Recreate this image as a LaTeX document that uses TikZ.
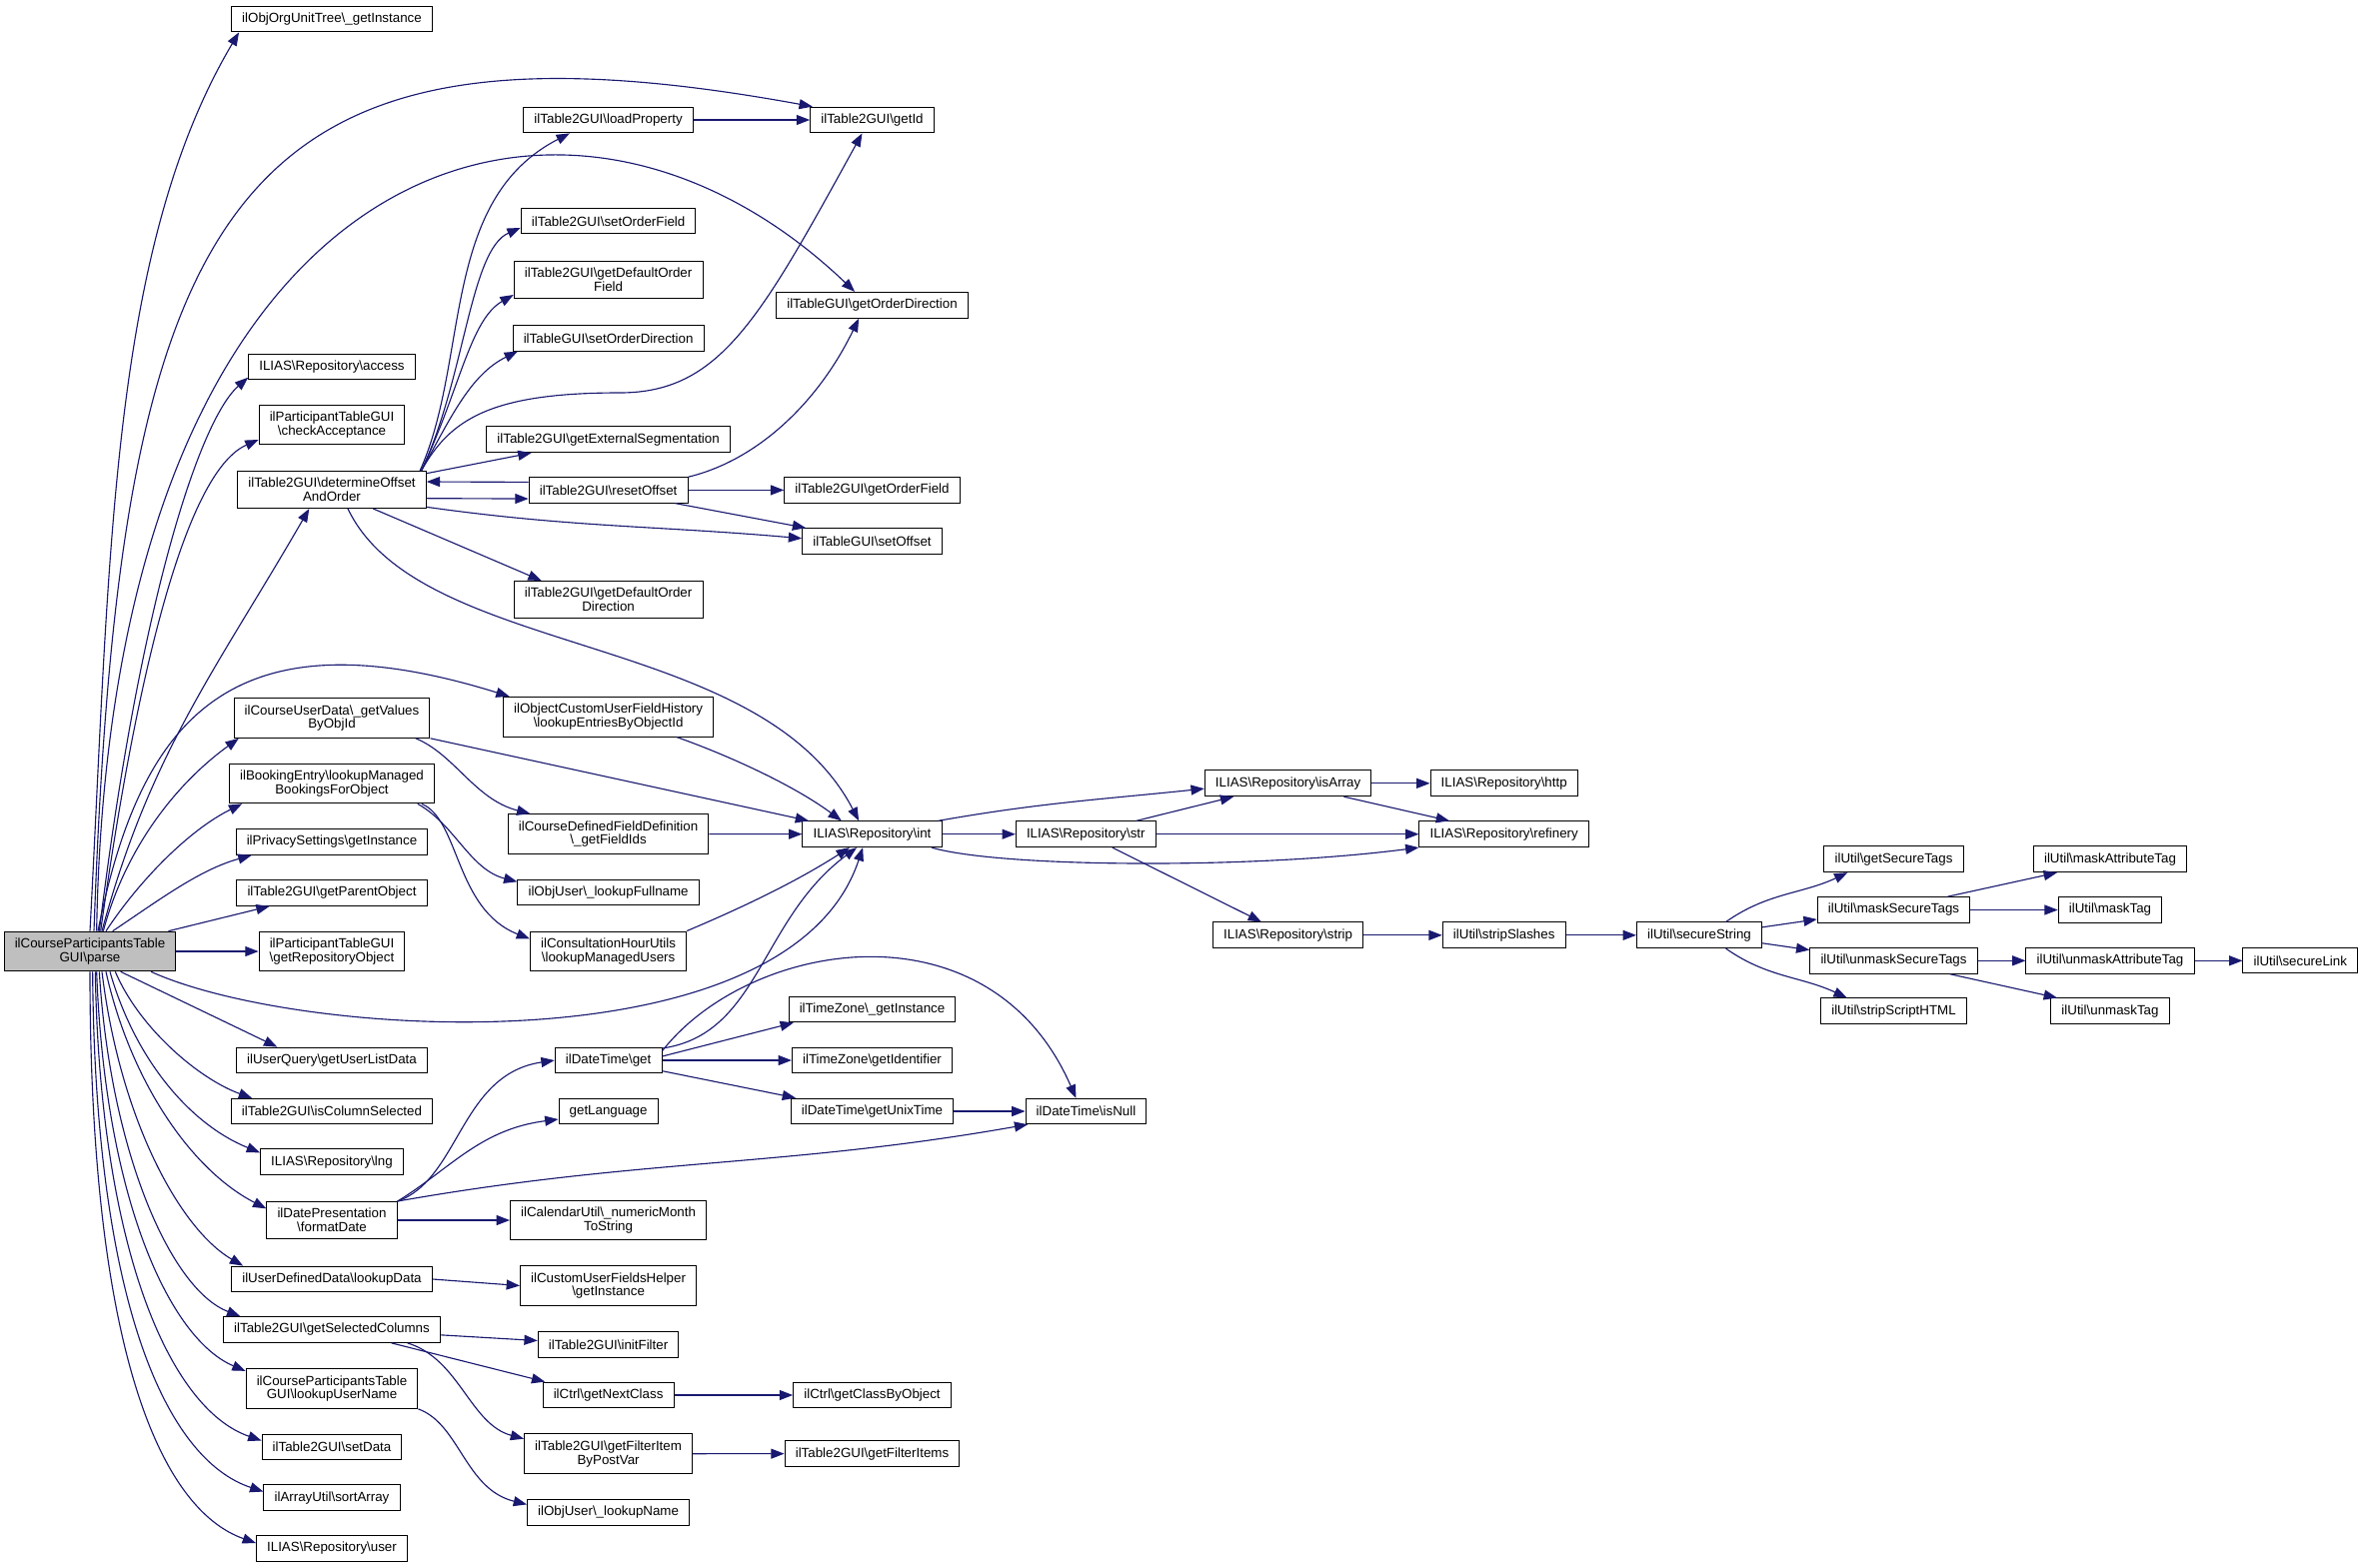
\documentclass[tikz,border=0pt]{standalone}
\usepackage{fontspec}
\setmainfont{Liberation Sans}
\usetikzlibrary{arrows.meta}
\usepackage{xcolor}
\definecolor{edgeblue}{HTML}{191970}
\newcommand{\bsl}{\textbackslash}

\begin{document}
\begin{tikzpicture}[x=0.75pt,y=-0.75pt,
    f/.style={->,draw=edgeblue,line width=0.85pt,>={Triangle[length=10pt,width=7.5pt]}},%
    fn/.style={draw,fill=white,line width=0.75pt,inner xsep=8pt,inner ysep=5pt,minimum height=19pt,align=center,font=\fontsize{10pt}{10.4pt}\selectfont},%
    cur/.style={fn,fill=black!25}]
    \useasboundingbox (0,0) rectangle (2364,1568);
    % the function itself
    \node[cur] (parse) at (90,952) {ilCourseParticipantsTable\\GUI\bsl parse};
    % first column of callees
    \node[fn] (orgunit) at (332,19) {ilObjOrgUnitTree\bsl\_getInstance};
    \node[fn] (access) at (332,367) {ILIAS\bsl Repository\bsl access};
    \node[fn] (checkacc) at (332,425) {ilParticipantTableGUI\\\bsl checkAcceptance};
    \node[fn] (doao) at (332,490) {ilTable2GUI\bsl determineOffset\\AndOrder};
    \node[fn] (getvalues) at (332,718.5) {ilCourseUserData\bsl\_getValues\\ByObjId};
    \node[fn] (bookings) at (332,784) {ilBookingEntry\bsl lookupManaged\\BookingsForObject};
    \node[fn] (privacy) at (332,842.5) {ilPrivacySettings\bsl getInstance};
    \node[fn] (parentobj) at (332,893.4) {ilTable2GUI\bsl getParentObject};
    \node[fn] (repoobj) at (332,952) {ilParticipantTableGUI\\\bsl getRepositoryObject};
    \node[fn] (userlist) at (332,1061) {ilUserQuery\bsl getUserListData};
    \node[fn] (colsel) at (332,1112) {ilTable2GUI\bsl isColumnSelected};
    \node[fn] (lng) at (332,1162.7) {ILIAS\bsl Repository\bsl lng};
    \node[fn] (formatdate) at (332,1221) {ilDatePresentation\\\bsl formatDate};
    \node[fn] (lookupdata) at (332,1280) {ilUserDefinedData\bsl lookupData};
    \node[fn] (selcols) at (332,1330.5) {ilTable2GUI\bsl getSelectedColumns};
    \node[fn] (lookupuser) at (332,1389.5) {ilCourseParticipantsTable\\GUI\bsl lookupUserName};
    \node[fn] (setdata) at (332,1448) {ilTable2GUI\bsl setData};
    \node[fn] (sortarray) at (332,1498.6) {ilArrayUtil\bsl sortArray};
    \node[fn] (user) at (332,1549.4) {ILIAS\bsl Repository\bsl user};
    % second column
    \node[fn] (loadprop) at (608.6,120) {ilTable2GUI\bsl loadProperty};
    \node[fn] (setorderfield) at (608.6,221.3) {ilTable2GUI\bsl setOrderField};
    \node[fn] (defaultorderfield) at (608.6,280) {ilTable2GUI\bsl getDefaultOrder\\Field};
    \node[fn] (setorderdir) at (608.6,338.4) {ilTableGUI\bsl setOrderDirection};
    \node[fn] (extseg) at (608.6,439.8) {ilTable2GUI\bsl getExternalSegmentation};
    \node[fn] (resetoffset) at (608.6,490.4) {ilTable2GUI\bsl resetOffset};
    \node[fn] (defaultorderdir) at (608.6,600) {ilTable2GUI\bsl getDefaultOrder\\Direction};
    \node[fn] (entries) at (608.6,717.2) {ilObjectCustomUserFieldHistory\\\bsl lookupEntriesByObjectId};
    \node[fn] (fieldids) at (608.6,834.5) {ilCourseDefinedFieldDefinition\\\bsl\_getFieldIds};
    \node[fn] (fullname) at (608.6,893) {ilObjUser\bsl\_lookupFullname};
    \node[fn] (managedusers) at (608.6,951.8) {ilConsultationHourUtils\\\bsl lookupManagedUsers};
    \node[fn] (dtget) at (608.6,1061) {ilDateTime\bsl get};
    \node[fn] (getlang) at (608.6,1112) {getLanguage};
    \node[fn] (monthstr) at (608.6,1221) {ilCalendarUtil\bsl\_numericMonth\\ToString};
    \node[fn] (fieldshelper) at (608.6,1286.5) {ilCustomUserFieldsHelper\\\bsl getInstance};
    \node[fn] (initfilter) at (608.6,1345.5) {ilTable2GUI\bsl initFilter};
    \node[fn] (nextclass) at (608.6,1396) {ilCtrl\bsl getNextClass};
    \node[fn] (filteritem) at (608.6,1454.7) {ilTable2GUI\bsl getFilterItem\\ByPostVar};
    \node[fn] (lookupname) at (608.6,1513.4) {ilObjUser\bsl\_lookupName};
    % third column
    \node[fn] (getid) at (872.5,120) {ilTable2GUI\bsl getId};
    \node[fn] (getorderdir) at (872.5,305.3) {ilTableGUI\bsl getOrderDirection};
    \node[fn] (getorderfield) at (872.5,490.4) {ilTable2GUI\bsl getOrderField};
    \node[fn] (setoffset) at (872.5,541.4) {ilTableGUI\bsl setOffset};
    \node[fn] (int) at (872.5,834.7) {ILIAS\bsl Repository\bsl int};
    \node[fn] (tzinst) at (872.5,1010) {ilTimeZone\bsl\_getInstance};
    \node[fn] (tzident) at (872.5,1061) {ilTimeZone\bsl getIdentifier};
    \node[fn] (unixtime) at (872.5,1112) {ilDateTime\bsl getUnixTime};
    \node[fn] (classbyobj) at (872.5,1396) {ilCtrl\bsl getClassByObject};
    \node[fn] (filteritems) at (872.5,1454.6) {ilTable2GUI\bsl getFilterItems};
    % further right
    \node[fn] (isnull) at (1086.5,1112) {ilDateTime\bsl isNull};
    \node[fn] (str) at (1086.3,834.7) {ILIAS\bsl Repository\bsl str};
    \node[fn] (isarray) at (1288.6,783.8) {ILIAS\bsl Repository\bsl isArray};
    \node[fn] (strip) at (1288.6,935.8) {ILIAS\bsl Repository\bsl strip};
    \node[fn] (http) at (1504.7,783.8) {ILIAS\bsl Repository\bsl http};
    \node[fn] (refinery) at (1504.7,834.7) {ILIAS\bsl Repository\bsl refinery};
    \node[fn] (stripslashes) at (1504.7,935.8) {ilUtil\bsl stripSlashes};
    \node[fn] (securestring) at (1700,935.8) {ilUtil\bsl secureString};
    \node[fn] (securetags) at (1894.5,859.8) {ilUtil\bsl getSecureTags};
    \node[fn] (masksecure) at (1894.5,910.5) {ilUtil\bsl maskSecureTags};
    \node[fn] (unmasksecure) at (1894.5,961.3) {ilUtil\bsl unmaskSecureTags};
    \node[fn] (stripscript) at (1894.5,1011.8) {ilUtil\bsl stripScriptHTML};
    \node[fn] (maskattr) at (2111,859.8) {ilUtil\bsl maskAttributeTag};
    \node[fn] (masktag) at (2111,910.5) {ilUtil\bsl maskTag};
    \node[fn] (unmaskattr) at (2111,961.3) {ilUtil\bsl unmaskAttributeTag};
    \node[fn] (unmasktag) at (2111,1011.8) {ilUtil\bsl unmaskTag};
    \node[fn] (securelink) at (2301.3,961.3) {ilUtil\bsl secureLink};

    % calls out of parse, upwards
    \draw[f] (parse.north) .. controls (110,560) and (110,250) .. ([xshift=6pt]orgunit.south west);
    \draw[f] ([xshift=3pt]parse.north) .. controls (120,200) and (230,0) .. ([xshift=2pt]getid.north west);
    \draw[f] ([xshift=5pt]parse.north) .. controls (110,150) and (560,10) .. ([xshift=-13pt]getorderdir.north);
    \draw[f] ([xshift=7pt]parse.north) .. controls (140,600) and (200,420) .. ([yshift=2pt]access.south west);
    \draw[f] ([xshift=8pt]parse.north) .. controls (140,650) and (190,470) .. ([yshift=4pt]checkacc.south west);
    \draw[f] ([xshift=9pt]parse.north) to[out=75,in=240] ([xshift=-17pt]doao.south);
    \draw[f] ([xshift=6pt]parse.north) .. controls (140,720) and (230,610) .. ([xshift=5pt]entries.north west);
    \draw[f] ([xshift=10pt]parse.north) .. controls (125,850) and (175,785) .. ([xshift=4pt]getvalues.south west);
    \draw[f] ([xshift=12pt]parse.north) .. controls (140,880) and (190,830) .. ([xshift=10pt]bookings.south west);
    \draw[f] ([xshift=17pt]parse.north) .. controls (160,900) and (200,870) .. ([xshift=12pt]privacy.south west);
    \draw[f] ([xshift=-6pt]parse.north east) -- ([xshift=25pt]parentobj.south west);
    \draw[f] (parse) -- (repoobj);
    \draw[f] ([xshift=-19pt]parse.south east) .. controls (300,1040) and (790,1070) .. ([xshift=-7pt]int.south);
    % calls out of parse, downwards
    \draw[f] ([xshift=23pt]parse.south) -- ([xshift=31pt]userlist.north west);
    \draw[f] ([xshift=19pt]parse.south) .. controls (140,1030) and (200,1080) .. ([xshift=16pt]colsel.north west);
    \draw[f] ([xshift=15pt]parse.south) .. controls (135,1060) and (190,1125) .. ([yshift=-3pt]lng.north west);
    \draw[f] ([xshift=12pt]parse.south) .. controls (130,1080) and (190,1170) .. ([yshift=-5.5pt]formatdate.north west);
    \draw[f] ([xshift=9pt]parse.south) .. controls (120,1120) and (180,1230) .. ([xshift=9pt]lookupdata.north west);
    \draw[f] ([xshift=7pt]parse.south) .. controls (110,1150) and (170,1290) .. ([xshift=13pt]selcols.north west);
    \draw[f] ([xshift=5pt]parse.south) .. controls (105,1200) and (170,1340) .. ([yshift=-2pt]lookupuser.north west);
    \draw[f] ([xshift=4pt]parse.south) .. controls (100,1250) and (170,1410) .. ([yshift=-5pt]setdata.north west);
    \draw[f] ([xshift=2pt]parse.south) .. controls (95,1300) and (165,1460) .. ([yshift=-5.5pt]sortarray.north west);
    \draw[f] (parse.south) .. controls (90,1350) and (160,1510) .. ([yshift=-6pt]user.north west);

    % determineOffsetAndOrder
    \draw[f] ([xshift=-5pt]doao.north east) .. controls (470,360) and (440,200) .. ([xshift=-29pt]loadprop.south);
    \draw[f] ([xshift=-4pt]doao.north east) .. controls (450,420) and (490,393) .. (620,393) .. controls (720,393) and (760,320) .. ([xshift=-7.5pt]getid.south);
    \draw[f] ([xshift=-4pt]doao.north east) .. controls (465,380) and (470,250) .. ([yshift=-5pt]setorderfield.west);
    \draw[f] ([xshift=-4pt]doao.north east) .. controls (460,390) and (470,320) .. ([yshift=3pt]defaultorderfield.south west);
    \draw[f] ([xshift=-4pt]doao.north east) .. controls (450,420) and (470,375) .. ([xshift=4pt]setorderdir.south west);
    \draw[f] ([yshift=-2pt]doao.north east) -- ([xshift=34pt]extseg.south west);
    \draw[f] ([yshift=6pt]resetoffset.west) -- ([yshift=6pt]doao.east);
    \draw[f] ([yshift=-6.5pt]doao.east) -- ([yshift=-6.5pt]resetoffset.west);
    \draw[f] ([yshift=-13pt]doao.east) to[out=-8,in=175] ([yshift=2pt]setoffset.west);
    \draw[f] ([xshift=31pt]doao.south) -- ([xshift=21pt]defaultorderdir.north west);
    \draw[f] ([xshift=12pt]doao.south) .. controls (420,660) and (760,630) .. ([xshift=-10pt]int.north);
    \draw[f] (resetoffset.north east) .. controls (760,460) and (820,400) .. ([xshift=-10pt]getorderdir.south);
    \draw[f] (resetoffset) -- (getorderfield);
    \draw[f] ([xshift=-10pt]resetoffset.south east) -- ([xshift=3pt]setoffset.north west);
    \draw[f] (loadprop) -- (getid);

    % towards ILIAS\Repository\int
    \draw[f] (getvalues.south east) -- ([xshift=5pt]int.north west);
    \draw[f] ([xshift=-11pt]getvalues.south east) .. controls (455,755) and (475,800) .. ([xshift=17pt]fieldids.north west);
    \draw[f] ([xshift=-13pt]bookings.south east) .. controls (455,825) and (470,870) .. ([yshift=-2pt]fullname.north west);
    \draw[f] ([xshift=-10pt]bookings.south east) .. controls (460,820) and (455,910) .. ([yshift=-6pt]managedusers.north west);
    \draw[f] ([xshift=-28pt]entries.south east) .. controls (740,760) and (800,790) .. ([xshift=-23pt]int.north);
    \draw[f] (fieldids) -- (int);
    \draw[f] (managedusers.north east) .. controls (750,905) and (800,880) .. ([xshift=-17pt]int.south);
    \draw[f] ([yshift=-1pt]dtget.north east) .. controls (760,1035) and (760,920) .. ([xshift=-11.5pt]int.south);
    \draw[f] ([xshift=-3pt]int.north east) to[out=10,in=186] ([yshift=-4pt]isarray.west);
    \draw[f] (int) -- (str);
    \draw[f] ([xshift=-8pt]int.south east) .. controls (1000,868) and (1250,870) .. (refinery.south west);
    \draw[f] ([xshift=-15pt]str.north east) -- ([xshift=22pt]isarray.south west);
    \draw[f] (str) -- (refinery);
    \draw[f] ([xshift=-33pt]str.south east) -- ([xshift=-20pt]strip.north);
    \draw[f] (isarray) -- (http);
    \draw[f] ([xshift=-21pt]isarray.south east) -- ([xshift=-41pt]refinery.north);
    \draw[f] (strip) -- (stripslashes);
    \draw[f] (stripslashes) -- (securestring);
    \draw[f] ([xshift=20pt]securestring.north) to[out=35,in=205] ([xshift=18pt]securetags.south west);
    \draw[f] ([yshift=6pt]securestring.east) -- ([yshift=3pt]masksecure.south west);
    \draw[f] ([yshift=-6pt]securestring.east) -- ([yshift=-2pt]unmasksecure.north west);
    \draw[f] ([xshift=20pt]securestring.south) to[out=-35,in=155] ([xshift=20pt]stripscript.north west);
    \draw[f] ([xshift=-17pt]masksecure.north east) -- ([xshift=18pt]maskattr.south west);
    \draw[f] (masksecure) -- (masktag);
    \draw[f] (unmasksecure) -- (unmaskattr);
    \draw[f] ([xshift=-21pt]unmasksecure.south east) -- ([xshift=5pt]unmasktag.north west);
    \draw[f] (unmaskattr) -- (securelink);

    % dates and the lower part
    \draw[f] ([yshift=-3pt]dtget.north east) .. controls (750,940) and (990,900) .. ([xshift=-7.5pt]isnull.north);
    \draw[f] ([yshift=3pt]dtget.east) -- ([xshift=4pt]tzinst.south west);
    \draw[f] (dtget) -- (tzident);
    \draw[f] ([yshift=-8pt]dtget.east) -- ([xshift=4pt]unixtime.north west);
    \draw[f] (unixtime) -- (isnull);
    \draw[f] (formatdate.north east) .. controls (460,1180) and (460,1075) .. (dtget.west);
    \draw[f] (formatdate.north east) .. controls (450,1170) and (480,1130) .. ([yshift=-6pt]getlang.west);
    \draw[f] (formatdate.north east) to[out=10,in=190] ([xshift=2pt]isnull.south west);
    \draw[f] (formatdate) -- (monthstr);
    \draw[f] (lookupdata.east) -- (fieldshelper.west);
    \draw[f] ([yshift=-4pt]selcols.east) -- ([yshift=3pt]initfilter.west);
    \draw[f] ([xshift=-37pt]selcols.south east) -- ([xshift=2pt]nextclass.north west);
    \draw[f] ([xshift=-25pt]selcols.south east) .. controls (460,1360) and (470,1425) .. ([yshift=-4pt]filteritem.north west);
    \draw[f] (lookupuser.south east) .. controls (460,1425) and (465,1490) .. ([yshift=6pt]lookupname.west);
    \draw[f] (nextclass) -- (classbyobj);
    \draw[f] (filteritem) -- (filteritems);
\end{tikzpicture}
\end{document}
